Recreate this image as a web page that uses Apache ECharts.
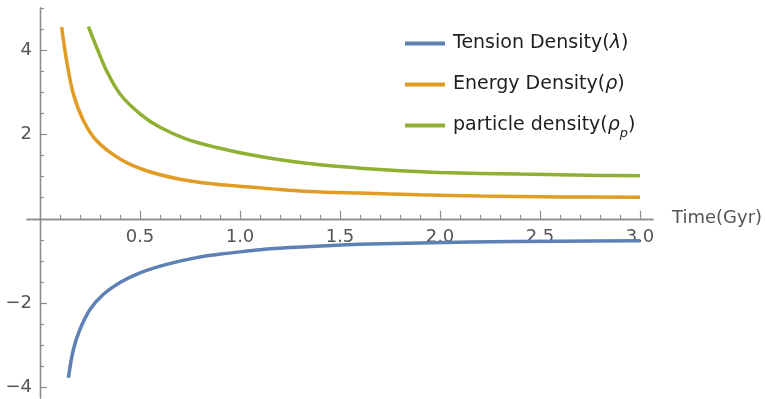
<!DOCTYPE html>
<html>
<head>
<meta charset="utf-8">
<script src="https://cdn.jsdelivr.net/npm/echarts@6/dist/echarts.min.js"></script>
<style>html,body{margin:0;padding:0;background:#fff}#c{width:765px;height:399px}</style>
</head>
<body>
<div id="c"></div>
<script>
// ---- data ----
var seriesNames = ['Tension Density(λ)', 'Energy Density(ρ)', 'particle density(ρp)'];

var tensionT = [0.142, 0.167, 0.20, 0.25, 0.317, 0.40, 0.50, 0.633, 0.783, 0.933, 1.05, 1.15, 1.38, 1.65, 2.15, 2.6, 3.0];
var tensionV = [-3.77, -3.10, -2.62, -2.15, -1.79, -1.51, -1.28, -1.08, -0.92, -0.82, -0.76, -0.71, -0.65, -0.60, -0.55, -0.53, -0.52];

var energyT = [0.108, 0.133, 0.167, 0.217, 0.283, 0.40, 0.533, 0.70, 0.883, 1.03, 1.16, 1.35, 1.6, 1.9, 2.2, 2.6, 3.0];
var energyV = [4.55, 3.75, 2.96, 2.33, 1.85, 1.42, 1.14, 0.94, 0.82, 0.76, 0.71, 0.65, 0.61, 0.57, 0.54, 0.52, 0.51];

var particleT = [0.242, 0.283, 0.333, 0.40, 0.50, 0.60, 0.733, 0.883, 1.04, 1.2, 1.4, 1.6, 1.8, 2.0, 2.4, 2.8, 3.0];
var particleV = [4.56, 4.07, 3.51, 2.96, 2.49, 2.17, 1.89, 1.69, 1.53, 1.40, 1.28, 1.20, 1.14, 1.10, 1.06, 1.03, 1.02];

var xMajorTicks = [0.5, 1.0, 1.5, 2.0, 2.5, 3.0];
var xMinorTicks = [0.1,0.2,0.3,0.4,0.6,0.7,0.8,0.9,1.1,1.2,1.3,1.4,1.6,1.7,1.8,1.9,2.1,2.2,2.3,2.4,2.6,2.7,2.8,2.9];
var yMajorTicks = [-4, -2, 2, 4];
var yMinorTicks = [-3.5,-3,-2.5,-1.5,-1,-0.5,0.5,1,1.5,2.5,3,3.5,4.5,5];
var xName = 'Time(Gyr)';

function pairs(t, v) { return t.map(function (x, i) { return [x, v[i]]; }); }

var FONT = 'DejaVu Sans';
var axisColor = '#8c8c8c';
var labelColor = '#555555';
var colors = ['#5E81B5', '#E19C24', '#8FB032'];

// layout of the plotting area
var G = {left: 27, right: 112, top: 8, height: 390};
var W = 765, H = 399;
var gridW = W - G.left - G.right;
var X_MIN = -0.065, X_MAX = 3.065, Y_MIN = -4.25, Y_MAX = 5;
// axes cross at the origin: shift bottom / left axes inward to the zero position
var xAxisOffset = -((0 - Y_MIN) / (Y_MAX - Y_MIN)) * G.height;
var yAxisOffset = -((0 - X_MIN) / (X_MAX - X_MIN)) * gridW;

var chart = echarts.init(document.getElementById('c'), null, {renderer: 'canvas'});

function xAxisDef(major) {
  return {
    type: 'value', min: X_MIN, max: X_MAX, position: 'bottom', offset: xAxisOffset,
    name: major ? xName : '',
    nameLocation: 'end', nameGap: 19,
    nameTextStyle: {fontFamily: FONT, fontSize: 18, color: labelColor, verticalAlign: 'middle'},
    axisLine: {show: true, onZero: false, lineStyle: {color: axisColor, width: 1.3}},
    axisTick: {show: true, inside: true, length: major ? 8 : 4, customValues: major ? xMajorTicks : xMinorTicks,
      lineStyle: {color: axisColor, width: 1.2}},
    axisLabel: {show: major, customValues: xMajorTicks, margin: 10, fontFamily: FONT, fontSize: 18, color: labelColor,
      hideOverlap: false,
      formatter: function (v) { return Number(v).toFixed(1); }},
    splitLine: {show: false}, minorTick: {show: false}
  };
}
function yAxisDef(major) {
  return {
    type: 'value', min: Y_MIN, max: Y_MAX, position: 'left', offset: yAxisOffset,
    axisLine: {show: true, onZero: false, lineStyle: {color: axisColor, width: 1.3}},
    axisTick: {show: true, inside: true, length: major ? 7 : 4, customValues: major ? yMajorTicks : yMinorTicks,
      lineStyle: {color: axisColor, width: 1.2}},
    axisLabel: {show: major, customValues: yMajorTicks, margin: 8, fontFamily: FONT, fontSize: 18, color: labelColor,
      hideOverlap: false,
      formatter: function (v) { return v < 0 ? '\u2212' + Math.abs(v) : String(v); }},
    splitLine: {show: false}, minorTick: {show: false}
  };
}

var LF = 19;
var rich = {
  n: {fontFamily: FONT, fontSize: LF, color: '#1e1e1e'},
  i: {fontFamily: FONT, fontSize: LF, fontStyle: 'italic', color: '#1e1e1e'},
  s: {fontFamily: FONT, fontSize: 13, fontStyle: 'italic', color: '#1e1e1e', verticalAlign: 'bottom', padding: [0, 0, -5, 0]}
};

chart.setOption({
  animation: false,
  backgroundColor: '#ffffff',
  grid: {left: G.left, right: G.right, top: G.top, height: G.height, containLabel: false, outerBoundsMode: 'none'},
  legend: {
    orient: 'vertical', left: 400, top: 29, itemGap: 22,
    itemWidth: 40, itemHeight: 4, icon: 'rect',
    data: seriesNames,
    textStyle: {fontFamily: FONT, fontSize: LF, color: '#1e1e1e', rich: rich, padding: [0, 0, 0, 3]},
    formatter: function (name) {
      if (name === seriesNames[0]) return '{n|Tension Density(}{i|λ}{n|)}';
      if (name === seriesNames[1]) return '{n|Energy Density(}{i|ρ}{n|)}';
      return '{n|particle density(}{i|ρ}{s|p}{n|)}';
    }
  },
  xAxis: [xAxisDef(true), xAxisDef(false)],
  yAxis: [yAxisDef(true), yAxisDef(false)],
  series: [
    {name: seriesNames[0], type: 'line', data: pairs(tensionT, tensionV)},
    {name: seriesNames[1], type: 'line', data: pairs(energyT, energyV)},
    {name: seriesNames[2], type: 'line', data: pairs(particleT, particleV)}
  ].map(function (s, i) {
    s.xAxisIndex = 0; s.yAxisIndex = 0;
    s.showSymbol = false; s.symbol = 'none';
    s.smooth = 0.35;
    s.color = colors[i];
    s.lineStyle = {color: colors[i], width: 3.5};
    s.itemStyle = {color: colors[i]};
    return s;
  })
});
</script>
</body>
</html>
